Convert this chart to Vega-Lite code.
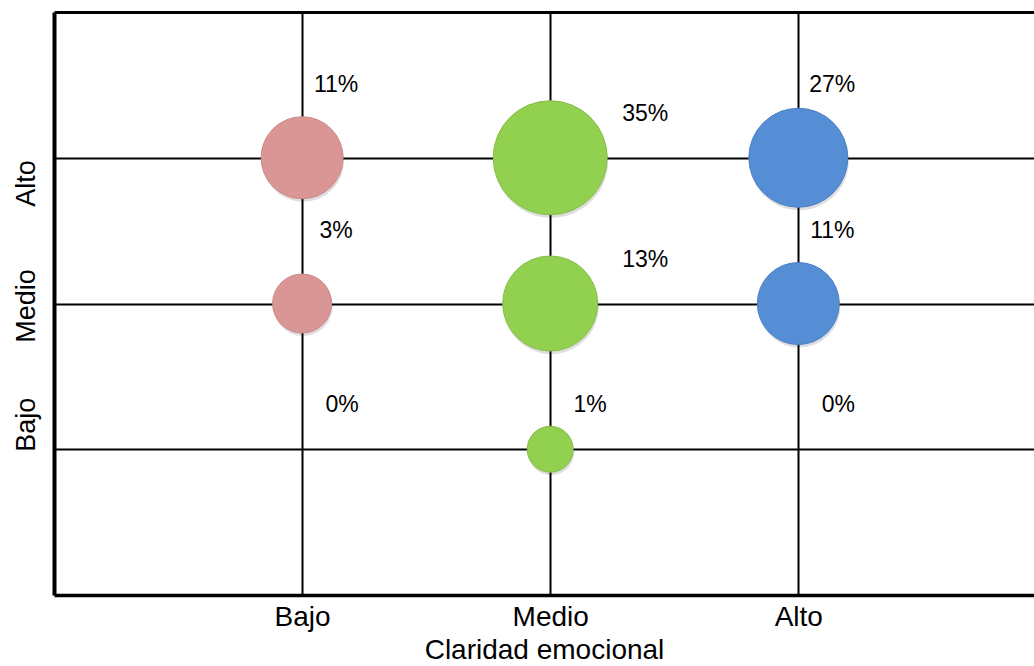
{
  "$schema": "https://vega.github.io/schema/vega-lite/v6.json",
  "autosize": {"type": "none"},
  "padding": {"left": 54, "top": 12, "right": 0, "bottom": 71},
  "width": 980,
  "height": 583,
  "config": {
    "font": "Liberation Sans",
    "view": {"stroke": null},
    "axis": {"labelColor": "#000000", "titleColor": "#000000", "labelFont": "Liberation Sans", "titleFont": "Liberation Sans"}
  },
  "data": {
    "values": [
      {"claridad": "Bajo", "cx": 1, "nivel": "Alto", "pct": 0.11},
      {"claridad": "Bajo", "cx": 1, "nivel": "Medio", "pct": 0.03},
      {"claridad": "Bajo", "cx": 1, "nivel": "Bajo", "pct": 0},
      {"claridad": "Medio", "cx": 2, "nivel": "Alto", "pct": 0.35},
      {"claridad": "Medio", "cx": 2, "nivel": "Medio", "pct": 0.13},
      {"claridad": "Medio", "cx": 2, "nivel": "Bajo", "pct": 0.01},
      {"claridad": "Alto", "cx": 3, "nivel": "Alto", "pct": 0.27},
      {"claridad": "Alto", "cx": 3, "nivel": "Medio", "pct": 0.11},
      {"claridad": "Alto", "cx": 3, "nivel": "Bajo", "pct": 0}
    ]
  },
  "encoding": {
    "y": {
      "field": "nivel", "type": "ordinal",
      "scale": {"type": "point", "domain": ["Alto", "Medio", "Bajo"], "padding": 1},
      "axis": {
        "orient": "left", "title": null, "grid": true, "gridColor": "#000000", "gridWidth": 2, "gridOpacity": 1,
        "domain": true, "domainColor": "#000000", "domainWidth": 4, "ticks": false,
        "labelAngle": -90,
        "labelAlign": {"condition": [{"test": "datum.value == 'Alto'", "value": "right"}, {"test": "datum.value == 'Bajo'", "value": "left"}], "value": "center"},
        "labelBaseline": "bottom",
        "labelFontSize": 27, "labelPadding": 14, "labelOffset": 2
      }
    },
    "size": {
      "field": "pct", "type": "quantitative",
      "scale": {"domain": [0, 0.01, 0.03, 0.11, 0.13, 0.27, 0.35], "range": [0, 2116, 3481, 6724, 9025, 9801, 12996]},
      "legend": null
    }
  },
  "resolve": {"axis": {"x": "independent"}},
  "layer": [
    {
      "transform": [{"filter": "datum.pct > 0"}],
      "mark": {"type": "point", "shape": "circle", "filled": true, "opacity": 0.13, "color": "#000000", "strokeWidth": 0, "yOffset": 3, "xOffset": 1},
      "encoding": {
        "x": {
          "field": "cx", "type": "quantitative",
          "scale": {"domain": [0, 3.95], "nice": false, "zero": false},
          "axis": {
            "orient": "bottom", "values": [1, 2, 3],
            "labelExpr": "datum.value == 1 ? 'Bajo' : datum.value == 2 ? 'Medio' : 'Alto'",
            "grid": true, "gridColor": "#000000", "gridWidth": 2, "gridOpacity": 1,
            "domain": true, "domainColor": "#000000", "domainWidth": 3.5, "ticks": false,
            "labelFontSize": 28, "labelPadding": 8, "labelFlush": false,
            "title": "Claridad emocional", "titleFontSize": 28, "titleFontWeight": "normal", "titlePadding": 5
          }
        }
      }
    },
    {
      "transform": [{"filter": "datum.pct > 0"}],
      "mark": {"type": "point", "shape": "circle", "filled": true, "opacity": 1, "strokeWidth": 1},
      "encoding": {
        "x": {"field": "cx", "type": "quantitative", "axis": null},
        "fill": {
          "field": "claridad", "type": "nominal",
          "scale": {"domain": ["Bajo", "Medio", "Alto"], "range": ["#D99694", "#92D050", "#558ED5"]},
          "legend": null
        },
        "stroke": {
          "field": "claridad", "type": "nominal",
          "scale": {"domain": ["Bajo", "Medio", "Alto"], "range": ["#CB8987", "#86BE49", "#4C80C4"]},
          "legend": null
        }
      }
    },
    {
      "transform": [{"filter": "datum.claridad != 'Medio' && datum.nivel != 'Bajo'"}],
      "mark": {"type": "text", "fontSize": 23, "dx": 34, "dy": -73, "align": "center", "baseline": "middle", "color": "#000000"},
      "encoding": {
        "x": {
          "field": "cx", "type": "quantitative",
          "axis": {"orient": "top", "labels": false, "ticks": false, "grid": false, "domain": true, "domainColor": "#000000", "domainWidth": 3, "title": null, "minExtent": 0, "maxExtent": 0}
        },
        "size": null,
        "text": {"field": "pct", "type": "quantitative", "format": ".0%"}
      }
    },
    {
      "transform": [{"filter": "datum.claridad == 'Medio' && datum.nivel != 'Bajo'"}],
      "mark": {"type": "text", "fontSize": 23, "dx": 95, "dy": -44, "align": "center", "baseline": "middle", "color": "#000000"},
      "encoding": {
        "x": {"field": "cx", "type": "quantitative", "axis": null},
        "size": null,
        "text": {"field": "pct", "type": "quantitative", "format": ".0%"}
      }
    },
    {
      "transform": [{"filter": "datum.nivel == 'Bajo'"}],
      "mark": {"type": "text", "fontSize": 23, "dx": 40, "dy": -44, "align": "center", "baseline": "middle", "color": "#000000"},
      "encoding": {
        "x": {"field": "cx", "type": "quantitative", "axis": null},
        "size": null,
        "text": {"field": "pct", "type": "quantitative", "format": ".0%"}
      }
    }
  ]
}
